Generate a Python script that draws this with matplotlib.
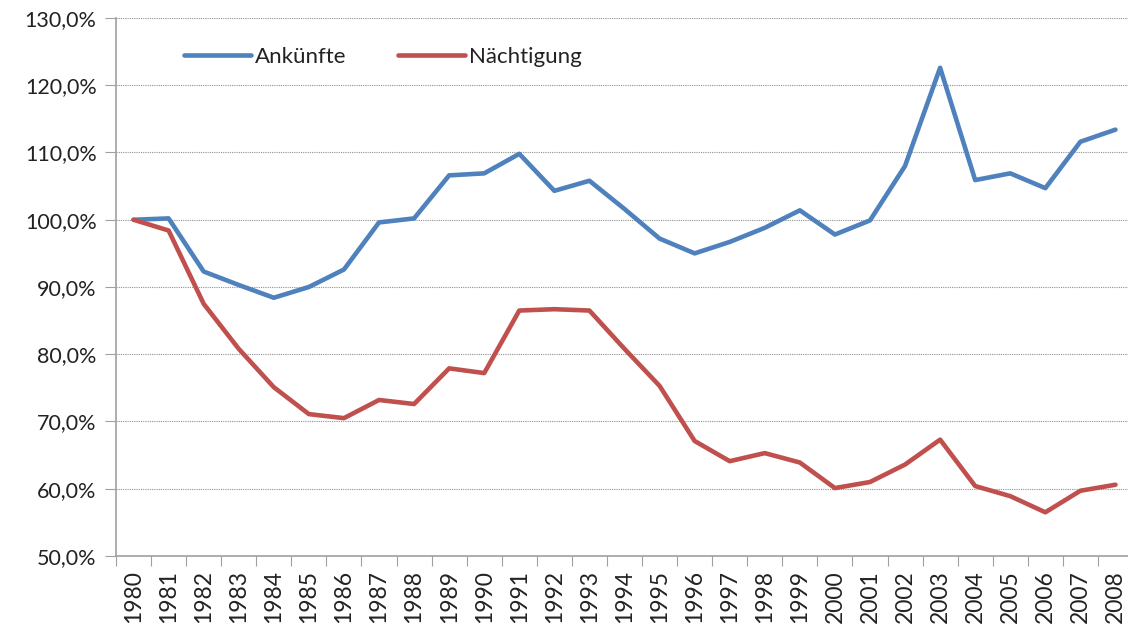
import numpy as np
import matplotlib.pyplot as plt
from matplotlib.ticker import FuncFormatter

years = [str(y) for y in range(1980, 2009)]
ankuenfte = [100.0, 100.2, 92.3, 90.3, 88.4, 90.0, 92.6, 99.6, 100.2, 106.6,
             106.9, 109.8, 104.3, 105.8, 101.6, 97.2, 95.0, 96.7, 98.8, 101.4,
             97.8, 99.9, 108.0, 122.6, 105.9, 106.9, 104.7, 111.6, 113.4]
naechtigung = [100.0, 98.4, 87.5, 80.8, 75.1, 71.1, 70.5, 73.2, 72.6, 77.9,
               77.2, 86.5, 86.7, 86.5, 80.8, 75.3, 67.1, 64.1, 65.3, 63.9,
               60.1, 61.0, 63.6, 67.3, 60.4, 58.9, 56.5, 59.7, 60.6]

plt.rcParams['font.family'] = ['Lato', 'DejaVu Sans']

fig = plt.figure(figsize=(11.28, 6.38), dpi=100)
ax = fig.add_axes([116 / 1128, 82 / 638, 1017 / 1128, 538 / 638])

x = np.arange(len(years))
ax.plot(x, ankuenfte, color='#4F81BD', lw=3.3, label='Ankünfte', solid_capstyle='round')
ax.plot(x, naechtigung, color='#C0504D', lw=3.3, label='Nächtigung', solid_capstyle='round')

ax.set_xlim(-0.5, len(years) - 0.5)
ax.set_ylim(50, 130)
ax.set_yticks(np.arange(50, 131, 10))
ax.yaxis.set_major_formatter(FuncFormatter(lambda v, p: f'{v:.1f}%'.replace('.', ',')))

# ticks between categories, labels on category centres
ax.set_xticks(np.arange(-0.5, len(years), 1))
ax.set_xticklabels([])
ax.set_xticks(x, minor=True)
ax.set_xticklabels(years, minor=True, rotation=90)
ax.tick_params(axis='x', which='major', length=7, color='#a0a0a0', direction='out')
ax.tick_params(axis='x', which='minor', length=0, labelsize=16.5, pad=10, colors='#222222')
ax.tick_params(axis='y', length=8, color='#a0a0a0', labelsize=15.5, colors='#222222', pad=6)

ax.grid(axis='y', linestyle=(0, (1, 1)), color='#909090', lw=0.8)
ax.set_axisbelow(True)
for s in ['top', 'right']:
    ax.spines[s].set_visible(False)
for s in ['left', 'bottom']:
    ax.spines[s].set_color('#a0a0a0')
    ax.spines[s].set_linewidth(1.2)

ax.legend(loc='center', bbox_to_anchor=(383 / 1128, 1 - 57 / 638), bbox_transform=fig.transFigure,
          ncol=2, frameon=False, fontsize=16, handlelength=3.0, handletextpad=0.2,
          columnspacing=2.3, labelcolor='#222222')

fig.savefig('out.png', dpi=100)
